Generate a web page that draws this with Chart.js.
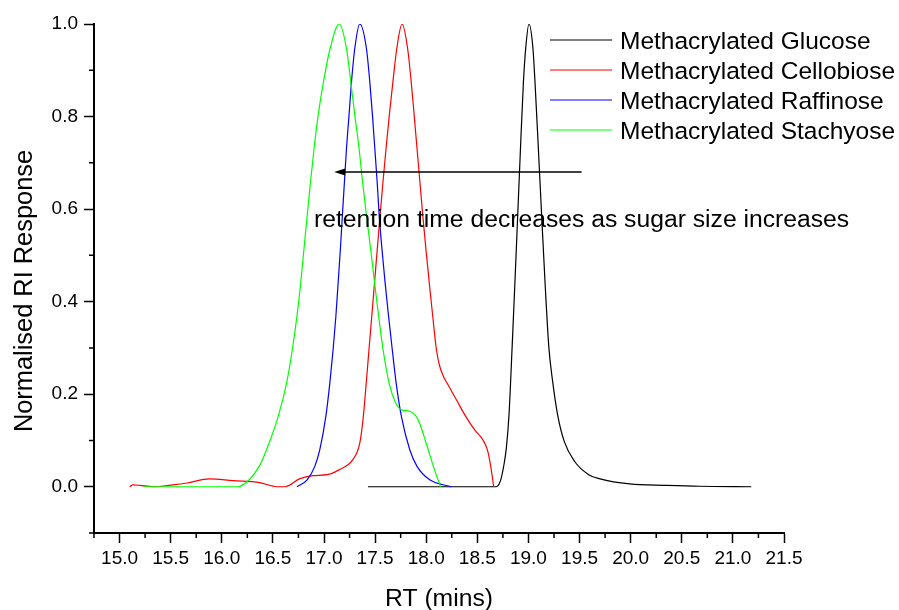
<!DOCTYPE html>
<html>
<head>
<meta charset="utf-8">
<script src="https://cdn.jsdelivr.net/npm/chart.js@4.4.1/dist/chart.umd.min.js"></script>
<style>
  html, body { margin: 0; padding: 0; background: #fff; }
</style>
</head>
<body>
<canvas id="chart" width="899" height="610"></canvas>
<script>
const FONT = 'Arial, "Liberation Sans", sans-serif';

const seriesNames = ['Methacrylated Glucose', 'Methacrylated Cellobiose', 'Methacrylated Raffinose', 'Methacrylated Stachyose'];
const seriesColors = ['#000000', '#ff0000', '#0000ff', '#00ff00'];

// retention time (mins) / normalised RI response
const glucoseRT = [17.43, 18.67, 18.686, 18.725, 18.76, 18.784, 18.81, 18.84, 18.868, 18.895, 18.922, 18.951, 18.973, 19.005,
  19.044, 19.064, 19.097, 19.129, 19.162, 19.2, 19.237, 19.285, 19.35, 19.45, 19.59, 19.7, 19.99, 20.35, 20.67, 21.18];
const glucoseRI = [0, 0, 0, 0.012, 0.047, 0.084, 0.156, 0.3, 0.443, 0.587, 0.731, 0.875, 0.947, 1.0,
  0.947, 0.875, 0.731, 0.587, 0.443, 0.3, 0.227, 0.156, 0.098, 0.055, 0.026, 0.017, 0.006, 0.003, 0.001, 0];

const cellobioseRT = [15.10, 15.13, 15.20, 15.33, 15.52, 15.66, 15.88, 16.11, 16.37, 16.54, 16.62, 16.76, 16.89, 17.03, 17.15,
  17.28, 17.35, 17.385, 17.413, 17.44, 17.467, 17.494, 17.522, 17.549, 17.577, 17.607, 17.639, 17.674, 17.712, 17.764,
  17.818, 17.853, 17.882, 17.91, 17.938, 17.966, 17.996, 18.03, 18.064, 18.1, 18.13, 18.165, 18.204, 18.295, 18.386, 18.474,
  18.555, 18.598, 18.631, 18.66];
const cellobioseRI = [0, 0.004, 0.003, 0, 0.004, 0.008, 0.017, 0.013, 0.009, 0, 0, 0.017, 0.024, 0.026, 0.037,
  0.058, 0.094, 0.152, 0.224, 0.296, 0.368, 0.44, 0.516, 0.587, 0.659, 0.731, 0.803, 0.875, 0.947, 1.0,
  0.947, 0.875, 0.803, 0.731, 0.659, 0.587, 0.516, 0.44, 0.368, 0.296, 0.262, 0.24, 0.224, 0.188, 0.152, 0.123,
  0.101, 0.08, 0.044, 0];

const raffinoseRT = [16.737, 16.835, 16.91, 16.959, 17.018, 17.057, 17.089, 17.116, 17.138, 17.161, 17.18, 17.2, 17.22,
  17.245, 17.269, 17.301, 17.35, 17.415, 17.448, 17.474, 17.497, 17.52, 17.54, 17.566, 17.598, 17.632, 17.668, 17.706,
  17.757, 17.839, 17.91, 18.034, 18.246];
const raffinoseRI = [0, 0.015, 0.044, 0.08, 0.152, 0.224, 0.296, 0.368, 0.44, 0.516, 0.587, 0.659, 0.731,
  0.803, 0.875, 0.947, 1.0, 0.947, 0.875, 0.803, 0.731, 0.659, 0.587, 0.516, 0.44, 0.368, 0.296, 0.224,
  0.152, 0.08, 0.044, 0.015, 0];

const stachyoseRT = [15.23, 16.16, 16.268, 16.366, 16.438, 16.552, 16.634, 16.69, 16.735, 16.772, 16.805, 16.836, 16.868,
  16.903, 16.943, 16.995, 17.06, 17.148, 17.22, 17.262, 17.301, 17.343, 17.377, 17.415, 17.455, 17.495, 17.535, 17.578,
  17.637, 17.702, 17.758, 17.839, 17.92, 18.0, 18.07, 18.14];
const stachyoseRI = [0, 0, 0.015, 0.044, 0.08, 0.152, 0.224, 0.296, 0.368, 0.44, 0.516, 0.587, 0.659,
  0.731, 0.803, 0.875, 0.947, 1.0, 0.947, 0.875, 0.803, 0.731, 0.659, 0.587, 0.516, 0.44, 0.368, 0.296,
  0.224, 0.181, 0.166, 0.163, 0.145, 0.094, 0.044, 0];

const xTicks = [15.0, 15.5, 16.0, 16.5, 17.0, 17.5, 18.0, 18.5, 19.0, 19.5, 20.0, 20.5, 21.0, 21.5];
const xMinorTicks = [14.75, 15.25, 15.75, 16.25, 16.75, 17.25, 17.75, 18.25, 18.75, 19.25, 19.75, 20.25, 20.75, 21.25];
const yTicks = [0.0, 0.2, 0.4, 0.6, 0.8, 1.0];
const yMinorTicks = [-0.1, 0.1, 0.3, 0.5, 0.7, 0.9];

const xTitle = 'RT (mins)';
const yTitle = 'Normalised RI Response';
const noteText = 'retention time decreases as sugar size increases';
const arrowFrom = [19.52, 0.68];
const arrowTo = [17.1, 0.68];

function toPoints(xs, ys) {
    return xs.map((x, i) => ({x: x, y: ys[i]}));
}

const seriesData = [
    toPoints(glucoseRT, glucoseRI),
    toPoints(cellobioseRT, cellobioseRI),
    toPoints(raffinoseRT, raffinoseRI),
    toPoints(stachyoseRT, stachyoseRI)
];

const decorations = {
    id: 'decorations',
    afterDraw(chart) {
        const {ctx, chartArea: a, scales: {x, y}} = chart;
        ctx.save();
        ctx.strokeStyle = '#000';
        ctx.fillStyle = '#000';

        // minor ticks
        ctx.lineWidth = 1.5;
        ctx.beginPath();
        xMinorTicks.forEach(v => {
            const px = x.getPixelForValue(v);
            ctx.moveTo(px, a.bottom);
            ctx.lineTo(px, a.bottom + 5);
        });
        yMinorTicks.forEach(v => {
            const py = y.getPixelForValue(v);
            ctx.moveTo(a.left, py);
            ctx.lineTo(a.left - 5, py);
        });
        ctx.stroke();

        // axis titles
        ctx.textAlign = 'center';
        ctx.textBaseline = 'alphabetic';
        ctx.font = '24.7px ' + FONT;
        ctx.fillText(xTitle, (a.left + a.right) / 2, 606);
        ctx.save();
        ctx.translate(32, 291);
        ctx.rotate(-Math.PI / 2);
        ctx.font = '25.4px ' + FONT;
        ctx.fillText(yTitle, 0, 0);
        ctx.restore();

        // arrow
        const x1 = x.getPixelForValue(arrowFrom[0]), y1 = y.getPixelForValue(arrowFrom[1]);
        const x2 = x.getPixelForValue(arrowTo[0]), y2 = y.getPixelForValue(arrowTo[1]);
        ctx.lineWidth = 1.5;
        ctx.beginPath();
        ctx.moveTo(x1, y1);
        ctx.lineTo(x2 + 8, y2);
        ctx.stroke();
        ctx.beginPath();
        ctx.moveTo(x2, y2);
        ctx.lineTo(x2 + 11, y2 - 3.5);
        ctx.lineTo(x2 + 11, y2 + 3.5);
        ctx.closePath();
        ctx.fill();

        // note
        ctx.font = '24.7px ' + FONT;
        ctx.textAlign = 'left';
        ctx.fillText(noteText, 314, 227);

        // legend
        ctx.font = '24.5px ' + FONT;
        seriesNames.forEach((name, i) => {
            const ly = 40 + i * 30;
            ctx.strokeStyle = seriesColors[i];
            ctx.lineWidth = 1.2;
            ctx.beginPath();
            ctx.moveTo(550, ly);
            ctx.lineTo(612, ly);
            ctx.stroke();
            ctx.fillStyle = '#000';
            ctx.fillText(name, 620, ly + 9);
        });
        ctx.restore();
    }
};

new Chart(document.getElementById('chart'), {
    type: 'line',
    data: {
        datasets: seriesData.map((pts, i) => ({
            label: seriesNames[i],
            data: pts,
            borderColor: seriesColors[i],
            backgroundColor: seriesColors[i],
            borderWidth: 1.2,
            pointRadius: 0,
            fill: false,
            cubicInterpolationMode: 'monotone',
            order: seriesNames.length - i
        }))
    },
    options: {
        responsive: false,
        animation: false,
        layout: { padding: { left: 0, top: 24, right: 115, bottom: 0 } },
        plugins: {
            legend: { display: false },
            tooltip: { enabled: false }
        },
        scales: {
            x: {
                type: 'linear',
                min: 14.75,
                max: 21.5,
                afterBuildTicks: s => { s.ticks = xTicks.map(v => ({value: v})); },
                afterFit: s => { s.height = 77; },
                grid: { drawOnChartArea: false, tickLength: 10, tickWidth: 1.5, tickColor: '#000' },
                border: { color: '#000', width: 2 },
                ticks: {
                    color: '#000',
                    font: { family: FONT, size: 19 },
                    padding: 4,
                    maxRotation: 0,
                    autoSkip: false,
                    callback: v => v.toFixed(1)
                }
            },
            y: {
                type: 'linear',
                min: -0.1,
                max: 1.0,
                afterBuildTicks: s => { s.ticks = yTicks.map(v => ({value: v})); },
                afterFit: s => { s.width = 94; },
                grid: { drawOnChartArea: false, tickLength: 10, tickWidth: 1.5, tickColor: '#000' },
                border: { color: '#000', width: 2 },
                ticks: {
                    color: '#000',
                    font: { family: FONT, size: 19 },
                    padding: 6,
                    callback: v => v.toFixed(1)
                }
            }
        }
    },
    plugins: [decorations]
});
</script>
</body>
</html>
